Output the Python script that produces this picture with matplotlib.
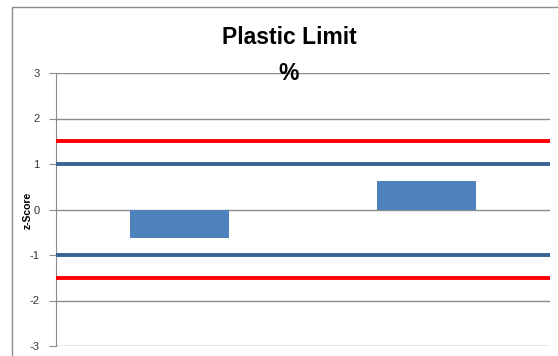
import matplotlib.pyplot as plt
from matplotlib.patches import Rectangle

categories = ['A', 'B']
z_scores = [-0.62, 0.62]
warn_limits = [1, -1]
action_limits = [1.5, -1.5]
yticks = [-3, -2, -1, 0, 1, 2, 3]

fig = plt.figure(figsize=(5.58, 3.56), dpi=100)
# chart border (cropped at right and bottom)
fig.patches.append(Rectangle((12 / 558, -0.1), 1.0, 1 - 7 / 356 + 0.1,
                             transform=fig.transFigure, fill=False,
                             edgecolor='#8c8c8c', linewidth=1.0))

ax = fig.add_axes([56 / 558, 1 - 346 / 356, (550 - 56) / 558, (346 - 73) / 356])

x = range(len(categories))
ax.bar(x, z_scores, width=0.4, color='#4f81bd', zorder=3)

for v in yticks:
    ax.axhline(v, color='#8c8c8c', linewidth=1.0, zorder=1)
for v in warn_limits:
    ax.axhline(v, color='#3a6496', linewidth=2.8, zorder=4)
for v in action_limits:
    ax.axhline(v, color='#ff0000', linewidth=2.8, zorder=4)

ax.set_xlim(-0.5, 1.5)
ax.set_ylim(-3, 3)
ax.set_yticks(yticks)
ax.set_yticklabels([str(v) for v in yticks], fontsize=8, color='#333333',
                   family='Liberation Sans')
ax.set_xticks([])
for s in ['top', 'right', 'bottom']:
    ax.spines[s].set_visible(False)
ax.spines['left'].set_color('#8c8c8c')
ax.tick_params(axis='y', length=5, color='#8c8c8c', pad=7)

fig.text(28 / 558, 1 - 210 / 356, 'z-Score', rotation=90, ha='center', va='center',
         fontsize=7.5, fontweight='bold', family='Liberation Sans')

fig.text(289 / 558, 1 - 37 / 356, 'Plastic Limit', ha='center', va='center',
         fontsize=16.5, fontweight='bold', family='Liberation Sans')
fig.text(289 / 558, 1 - 74 / 356, '%', ha='center', va='center',
         fontsize=16.5, fontweight='bold', family='Liberation Sans', zorder=5)

fig.savefig('out.png', dpi=100)
